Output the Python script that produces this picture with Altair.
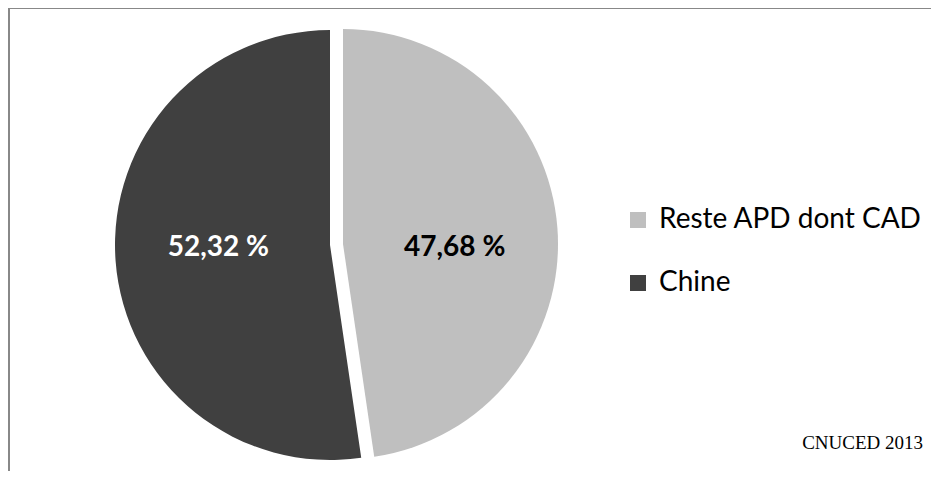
import math
import altair as alt
import pandas as pd

# ---- data ----
categories = ["Reste APD dont CAD", "Chine"]
shares = [47.68, 52.32]
labels = ["47,68 %", "52,32 %"]
order = [0, 1]
source_note = ["CNUCED 2013"]

df = pd.DataFrame({"category": categories, "share": shares, "label": labels, "order": order})

W, H = 923, 463
R = 215

theta_scale = alt.Scale(domain=[0, 100], range=[0, 2 * math.pi])
color_scale = alt.Scale(domain=categories, range=["#bfbfbf", "#404040"])

base = (
    alt.Chart(df)
    .transform_window(cum="sum(share)", sort=[alt.SortField("order")])
    .transform_calculate(start="datum.cum - datum.share", end="datum.cum",
                         mid="datum.cum - datum.share / 2")
)


def slice_layers(cat, cx, cy, text_color, dy, legend):
    b = base.transform_filter(alt.datum.category == cat)
    arc = b.mark_arc(outerRadius=R, stroke=None).encode(
        theta=alt.Theta("start:Q", scale=theta_scale, stack=None),
        theta2="end:Q",
        color=alt.Color("category:N", scale=color_scale, legend=legend),
        x=alt.value(cx),
        y=alt.value(cy),
    )
    txt = b.mark_text(font="Lato", fontSize=28, fontWeight="bold", color=text_color,
                      radius=112, dy=dy, baseline="middle", align="center").encode(
        theta=alt.Theta("mid:Q", scale=theta_scale, stack=None),
        text="label:N",
        x=alt.value(cx),
        y=alt.value(cy),
    )
    return [arc, txt]


legend = alt.Legend(
    title=None, orient="none", legendX=616, legendY=198,
    symbolType="square", symbolSize=256, symbolStrokeWidth=0,
    labelFont="Lato", labelFontSize=28, labelColor="#000000",
    labelOffset=7, rowPadding=35, padding=0,
    labelLimit=400,
)

layers = []
layers += slice_layers("Reste APD dont CAD", 335, 236, "#000000", 12, legend)
layers += slice_layers("Chine", 322, 237, "#ffffff", -5, legend)

note = alt.Chart(pd.DataFrame({"t": source_note})).mark_text(
    font="Liberation Serif", fontSize=19, color="#000000", align="right", baseline="alphabetic"
).encode(text="t:N", x=alt.value(915), y=alt.value(441))

frame_top = alt.Chart(pd.DataFrame({"t": source_note})).mark_rule(color="#888888", strokeWidth=2).encode(
    x=alt.value(0), x2=alt.value(W), y=alt.value(0))
frame_left = alt.Chart(pd.DataFrame({"t": source_note})).mark_rule(color="#888888", strokeWidth=2).encode(
    x=alt.value(1), y=alt.value(0), y2=alt.value(H))

chart = alt.layer(frame_top, frame_left, *layers, note).properties(
    width=W, height=H, autosize=alt.AutoSizeParams(type="none"), padding=0
).configure_view(stroke=None).configure(background="#ffffff")

chart.save("out.html", embed_options={"renderer": "svg", "actions": False})
